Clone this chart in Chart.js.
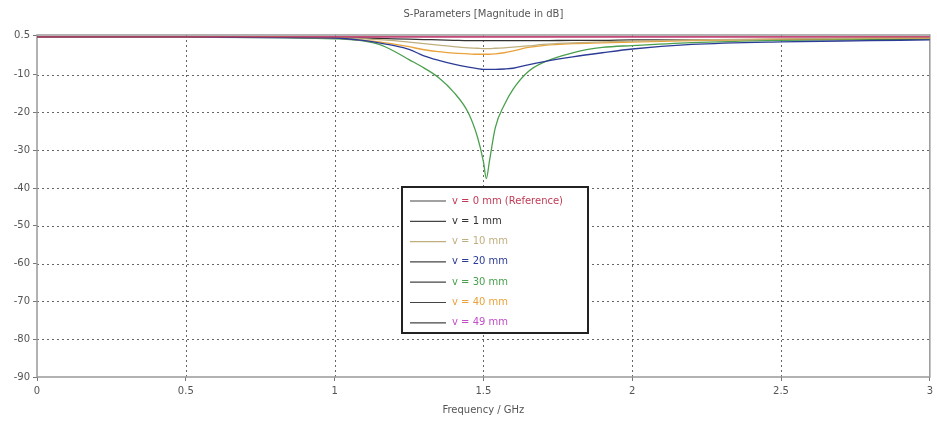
<!DOCTYPE html>
<html>
<head>
<meta charset="utf-8">
<script src="https://cdn.jsdelivr.net/npm/chart.js@4"></script>
<style>
  html, body { margin: 0; padding: 0; background: #fff; }
  #wrap { width: 937px; height: 428px; }
</style>
</head>
<body>
<div id="wrap"><canvas id="sparam" width="937" height="428"></canvas></div>
<script>
// frequency points (GHz)
const freq = [0, 0.5, 0.8, 1.0, 1.1, 1.15, 1.2, 1.25, 1.3, 1.35, 1.4, 1.45, 1.48, 1.5, 1.51, 1.52, 1.54, 1.57, 1.6, 1.65, 1.7, 1.8, 1.9, 2.0, 2.2, 2.5, 2.8, 3.0];

// |S| in dB for each offset v
const v0  = [0, 0, 0, 0, 0, 0, 0, 0, 0, 0, 0, 0, 0, 0, 0, 0, 0, 0, 0, 0, 0, 0, 0, 0, 0, 0, 0, 0];
const v1  = [0, 0, -0.1, -0.2, -0.3, -0.4, -0.5, -0.6, -0.7, -0.8, -0.9, -1.0, -1.0, -1.0, -1.0, -1.0, -1.0, -1.0, -1.0, -1.0, -1.0, -0.9, -0.9, -0.8, -0.8, -0.7, -0.7, -0.6];
const v10 = [0, 0, -0.1, -0.2, -0.5, -0.7, -1.0, -1.4, -1.8, -2.2, -2.6, -2.9, -3.0, -3.1, -3.1, -3.1, -3.0, -2.9, -2.7, -2.4, -2.0, -1.6, -1.3, -1.1, -0.8, -0.5, -0.3, -0.2];
const v20 = [0, 0, -0.2, -0.3, -1.0, -1.6, -2.3, -3.3, -5.0, -6.2, -7.2, -8.0, -8.4, -8.6, -8.6, -8.6, -8.6, -8.5, -8.3, -7.4, -6.6, -5.3, -4.2, -3.2, -2.0, -1.3, -1.0, -0.8];
const v30 = [0, -0.1, -0.2, -0.5, -1.1, -2.0, -3.8, -6.0, -8.2, -10.8, -14.6, -20.2, -26.5, -33, -37.5, -33, -24, -18, -13.8, -9.2, -6.8, -4.2, -2.8, -2.3, -1.5, -0.9, -0.6, -0.5];
const v40 = [0, 0, -0.1, -0.3, -0.9, -1.3, -1.9, -2.6, -3.4, -3.9, -4.3, -4.5, -4.6, -4.6, -4.6, -4.6, -4.5, -4.2, -3.7, -2.8, -2.3, -1.8, -1.6, -1.4, -1.0, -0.6, -0.4, -0.3];
const v49 = [0, 0, 0, 0, 0, 0, 0, 0, 0, 0, 0, 0, 0, 0, 0, 0, 0, 0, 0, 0, 0, 0, 0, 0, 0, 0, 0, 0];

const seriesLabels = ['v = 0 mm (Reference)', 'v = 1 mm', 'v = 10 mm', 'v = 20 mm', 'v = 30 mm', 'v = 40 mm', 'v = 49 mm'];
const seriesValues = [v0, v1, v10, v20, v30, v40, v49];
const seriesColors = ['#c23b55', '#333333', '#bfae7e', '#2c3c96', '#4aa04e', '#eaa23a', '#c24fc6'];
const drawOrder    = [0, 6, 2, 1, 5, 3, 4];

const yTicks = [0.5, -10, -20, -30, -40, -50, -60, -70, -80, -90];
const xTicks = [0, 0.5, 1, 1.5, 2, 2.5, 3];

const FONT = 'DejaVu Sans, Verdana, sans-serif';

const datasets = seriesValues.map((vals, i) => ({
  label: seriesLabels[i],
  data: freq.map((f, j) => ({ x: f, y: vals[j] })),
  borderColor: seriesColors[i],
  backgroundColor: seriesColors[i],
  borderWidth: 1.3,
  pointRadius: 0,
  cubicInterpolationMode: 'monotone',
  order: drawOrder[i]
}));

// dotted grid, drawn under the curves
const dotGrid = {
  id: 'dotGrid',
  beforeDatasetsDraw(chart) {
    const ctx = chart.ctx, a = chart.chartArea;
    const xs = chart.scales.x, ys = chart.scales.y;
    ctx.save();
    ctx.strokeStyle = '#666';
    ctx.lineWidth = 1;
    ctx.setLineDash([2, 3]);
    ctx.beginPath();
    xTicks.slice(1, -1).forEach(v => {
      const px = Math.round(xs.getPixelForValue(v)) + 0.5;
      ctx.moveTo(px, a.top); ctx.lineTo(px, a.bottom);
    });
    yTicks.slice(1, -1).forEach(v => {
      const py = Math.round(ys.getPixelForValue(v)) + 0.5;
      ctx.moveTo(a.left, py); ctx.lineTo(a.right, py);
    });
    ctx.stroke();
    ctx.setLineDash([]);
    ctx.strokeStyle = '#999';
    ctx.lineWidth = 1.5;
    ctx.strokeRect(a.left, a.top, a.right - a.left, a.bottom - a.top);
    ctx.restore();
  }
};

// title, axis title and the boxed legend inside the plot
const decor = {
  id: 'decor',
  afterDraw(chart) {
    const ctx = chart.ctx;
    const a = chart.chartArea;
    ctx.save();
    ctx.fillStyle = '#555';
    ctx.font = '10px ' + FONT;
    ctx.textAlign = 'center';
    ctx.textBaseline = 'middle';
    ctx.fillText('S-Parameters [Magnitude in dB]', (a.left + a.right) / 2, 14);
    ctx.fillText('Frequency / GHz', (a.left + a.right) / 2, 410);

    // legend box
    const bx = 402, by = 187, bw = 186, bh = 146;
    ctx.fillStyle = '#fff';
    ctx.fillRect(bx, by, bw, bh);
    ctx.strokeStyle = '#222';
    ctx.lineWidth = 2;
    ctx.strokeRect(bx, by, bw, bh);
    ctx.textAlign = 'left';
    ctx.lineWidth = 1.2;
    seriesLabels.forEach((lab, i) => {
      const y = by + 14 + i * 20.3;
      ctx.strokeStyle = i === 2 ? seriesColors[i] : '#444';
      ctx.beginPath();
      ctx.moveTo(bx + 8, y);
      ctx.lineTo(bx + 44, y);
      ctx.stroke();
      ctx.fillStyle = seriesColors[i];
      ctx.fillText(lab, bx + 50, y);
    });
    ctx.restore();
  }
};

new Chart(document.getElementById('sparam'), {
  type: 'line',
  data: { datasets },
  options: {
    responsive: false,
    animation: false,
    layout: { padding: { top: 35, right: 7, left: 0, bottom: 0 } },
    plugins: {
      legend: { display: false },
      title: { display: false },
      tooltip: { enabled: false }
    },
    scales: {
      x: {
        type: 'linear',
        min: 0,
        max: 3,
        afterBuildTicks: s => { s.ticks = xTicks.map(v => ({ value: v })); },
        afterFit: s => { s.height = 51; },
        ticks: { color: '#555', font: { size: 10, family: FONT }, padding: 4, maxRotation: 0,
                 callback: v => String(v) },
        grid: { color: '#777', lineWidth: 1, tickLength: 4, drawOnChartArea: false },
        border: { display: false }
      },
      y: {
        min: -90,
        max: 0.5,
        afterBuildTicks: s => { s.ticks = yTicks.map(v => ({ value: v })); },
        afterFit: s => { s.width = 37; },
        ticks: { color: '#555', font: { size: 10, family: FONT }, padding: 3,
                 callback: v => String(v) },
        grid: { color: '#777', lineWidth: 1, tickLength: 4, drawOnChartArea: false },
        border: { display: false }
      }
    }
  },
  plugins: [dotGrid, decor]
});
</script>
</body>
</html>
